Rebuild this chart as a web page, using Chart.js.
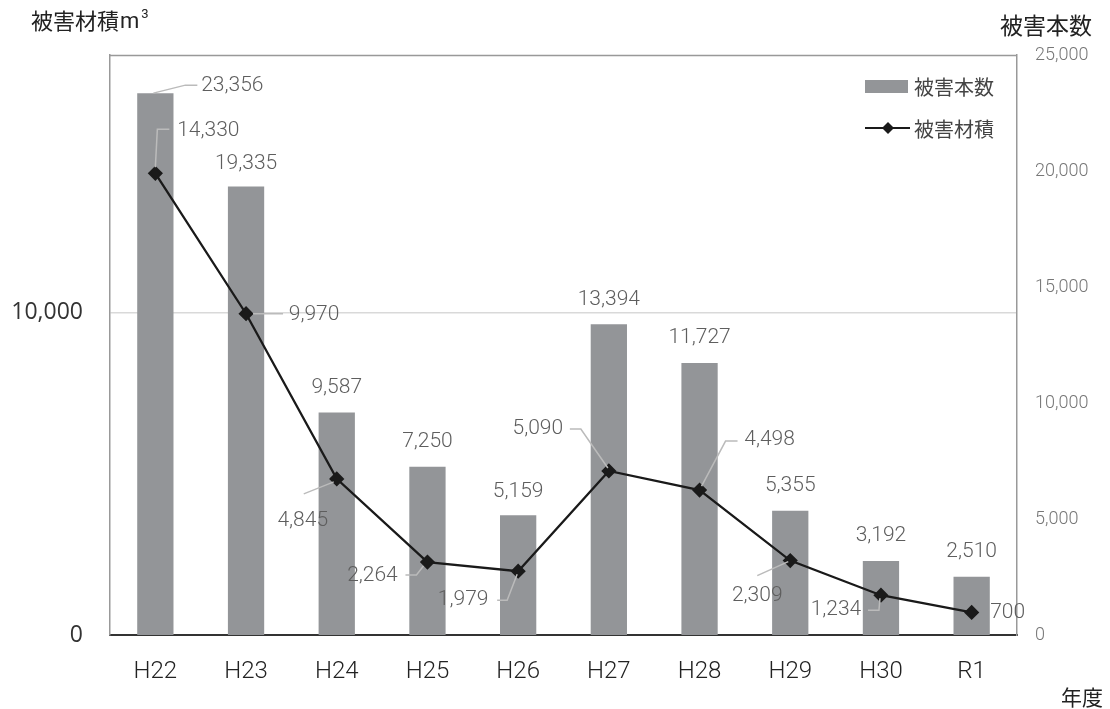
<!DOCTYPE html>
<html>
<head>
<meta charset="utf-8">
<script src="https://cdn.jsdelivr.net/npm/chart.js@4"></script>
<style>
  html, body { margin: 0; padding: 0; background: #fff; }
  #wrap { width: 1110px; height: 709px; position: relative; }
</style>
</head>
<body>
<div id="wrap"><canvas id="c"></canvas></div>
<script>
// ---- data ----
const categories = ['H22','H23','H24','H25','H26','H27','H28','H29','H30','R1'];
const damageCount = [23356,19335,9587,7250,5159,13394,11727,5355,3192,2510];   // 被害本数 (right axis)
const damageVolume = [14330,9970,4845,2264,1979,5090,4498,2309,1234,700];      // 被害材積 (left axis)
const leftTicks = [0, 10000];
const rightTicks = [0, 5000, 10000, 15000, 20000, 25000];

// ---- label placement (layout only) ----
const barLabelPos = [
  {t:[77,-7], lead:[[-2,0],[30,-8],[42,-8]]},
  {t:[0,-23]}, {t:[0,-25]}, {t:[0,-25]}, {t:[0,-24]},
  {t:[0,-25]}, {t:[0,-25]}, {t:[0,-25]}, {t:[0,-25]}, {t:[0,-25]}
];
const lineLabelPos = [
  {t:[53,-43], lead:[[0,-6],[2,-44],[14,-44]]},
  {t:[68,1],   lead:[[7,0],[37,0]]},
  {t:[-34,42], lead:[[-3,3],[-33,15]]},
  {t:[-55,14], lead:[[-4,4],[-11,13],[-22,13]]},
  {t:[-55,29], lead:[[-1,3],[-11,29],[-21,29]]},
  {t:[-71,-42],lead:[[-1,-3],[-28,-42],[-39,-42]]},
  {t:[70,-50], lead:[[2,-4],[26,-49],[38,-49]]},
  {t:[-33,35], lead:[[-2,1],[-33,15]]},
  {t:[-45,15], lead:[[-1,3],[-2,15],[-13,15]]},
  {t:[36,0]}
];

const BAR_COLOR = '#939598';
const LINE_COLOR = '#1a1a1a';
const NUM_FONT = "Roboto, 'Liberation Sans', sans-serif";
const JP_FONT = "'Noto Sans CJK JP', 'Noto Sans', sans-serif";
const fmt = v => Number(v).toLocaleString('en-US');

const decorPlugin = {
  id: 'decor',
  afterDatasetsDraw(chart) {
    const ctx = chart.ctx;
    const ca = chart.chartArea;
    ctx.save();
    // top frame line
    ctx.strokeStyle = '#999';
    ctx.lineWidth = 1.5;
    ctx.beginPath();
    ctx.moveTo(ca.left, ca.top + 0.5);
    ctx.lineTo(ca.right, ca.top + 0.5);
    ctx.stroke();

    ctx.font = '300 21px ' + NUM_FONT;
    ctx.fillStyle = '#5e5e5e';
    ctx.textAlign = 'center';
    ctx.textBaseline = 'middle';
    ctx.lineWidth = 1.5;
    ctx.strokeStyle = '#bbb';

    const drawLead = (x, y, pts) => {
      if (!pts || !pts.length) return;
      ctx.beginPath();
      ctx.moveTo(x + pts[0][0], y + pts[0][1]);
      for (let i = 1; i < pts.length; i++) ctx.lineTo(x + pts[i][0], y + pts[i][1]);
      ctx.stroke();
    };

    // bar labels
    chart.getDatasetMeta(0).data.forEach((el, i) => {
      const p = barLabelPos[i];
      drawLead(el.x, el.y, p.lead);
      ctx.fillText(fmt(damageCount[i]), el.x + p.t[0], el.y + p.t[1]);
    });
    // line labels
    chart.getDatasetMeta(1).data.forEach((el, i) => {
      const p = lineLabelPos[i];
      drawLead(el.x, el.y, p.lead);
      ctx.fillText(fmt(damageVolume[i]), el.x + p.t[0], el.y + p.t[1]);
    });

    // legend
    ctx.fillStyle = BAR_COLOR;
    ctx.fillRect(865, 80, 43, 13);
    ctx.strokeStyle = LINE_COLOR;
    ctx.lineWidth = 2;
    ctx.beginPath();
    ctx.moveTo(865, 128); ctx.lineTo(910, 128); ctx.stroke();
    ctx.fillStyle = LINE_COLOR;
    ctx.beginPath();
    ctx.moveTo(888, 122); ctx.lineTo(894, 128); ctx.lineTo(888, 134); ctx.lineTo(882, 128);
    ctx.closePath(); ctx.fill();
    ctx.font = '20px ' + JP_FONT;
    ctx.fillStyle = '#444';
    ctx.textAlign = 'left';
    ctx.fillText('被害本数', 914, 87);
    ctx.fillText('被害材積', 914, 129);

    // axis titles
    ctx.fillStyle = '#222';
    ctx.font = '22px ' + JP_FONT;
    ctx.fillText('被害材積', 31, 21);
    const w = ctx.measureText('被害材積').width;
    ctx.font = '22px ' + NUM_FONT;
    ctx.fillText('m', 31 + w + 1, 22);
    const wm = ctx.measureText('m').width;
    ctx.font = '13px ' + NUM_FONT;
    ctx.fillText('3', 31 + w + 3 + wm, 15);

    ctx.font = '23px ' + JP_FONT;
    ctx.textAlign = 'right';
    ctx.fillText('被害本数', 1092, 25);
    ctx.font = '21px ' + JP_FONT;
    ctx.fillText('年度', 1103, 697);
    ctx.restore();
  }
};

new Chart(document.getElementById('c'), {
  data: {
    labels: categories,
    datasets: [
      {
        type: 'bar',
        label: '被害本数',
        data: damageCount,
        yAxisID: 'yR',
        backgroundColor: BAR_COLOR,
        barPercentage: 0.4,
        categoryPercentage: 1.0,
        order: 2
      },
      {
        type: 'line',
        label: '被害材積',
        data: damageVolume,
        yAxisID: 'yL',
        borderColor: LINE_COLOR,
        backgroundColor: LINE_COLOR,
        borderWidth: 2.3,
        pointStyle: 'rectRot',
        pointRadius: 6,
        pointHoverRadius: 6,
        tension: 0,
        order: 1
      }
    ]
  },
  options: {
    responsive: true,
    maintainAspectRatio: false,
    animation: false,
    layout: { padding: { top: 55, left: 0, right: 0, bottom: 0 } },
    plugins: { legend: { display: false }, tooltip: { enabled: false } },
    scales: {
      x: {
        type: 'category',
        offset: true,
        grid: { display: false, drawTicks: false },
        border: { color: '#333', width: 2 },
        ticks: { font: { family: NUM_FONT, size: 24, weight: '300' }, color: '#222', padding: 23 },
        afterFit: s => { s.height = 74; }
      },
      yL: {
        type: 'linear',
        position: 'left',
        min: 0,
        max: 18000,
        afterBuildTicks: s => { s.ticks = leftTicks.map(v => ({ value: v })); },
        grid: {
          drawTicks: false,
          color: ctx => (ctx.tick && ctx.tick.value === 10000) ? '#d9d9d9' : 'rgba(0,0,0,0)',
          lineWidth: 1.5
        },
        border: { color: '#999', width: 1.5 },
        ticks: { font: { family: "'Open Sans', sans-serif", size: 23 }, color: '#333', padding: 27, callback: v => fmt(v) },
        afterFit: s => { s.width = 110; }
      },
      yR: {
        type: 'linear',
        position: 'right',
        min: 0,
        max: 25000,
        afterBuildTicks: s => { s.ticks = rightTicks.map(v => ({ value: v })); },
        grid: { display: false, drawTicks: false },
        border: { color: '#999', width: 1.5 },
        ticks: { font: { family: NUM_FONT, size: 18, weight: '300' }, color: '#777', padding: 18, callback: v => fmt(v) },
        afterFit: s => { s.width = 93; }
      }
    }
  },
  plugins: [decorPlugin]
});
</script>
</body>
</html>
